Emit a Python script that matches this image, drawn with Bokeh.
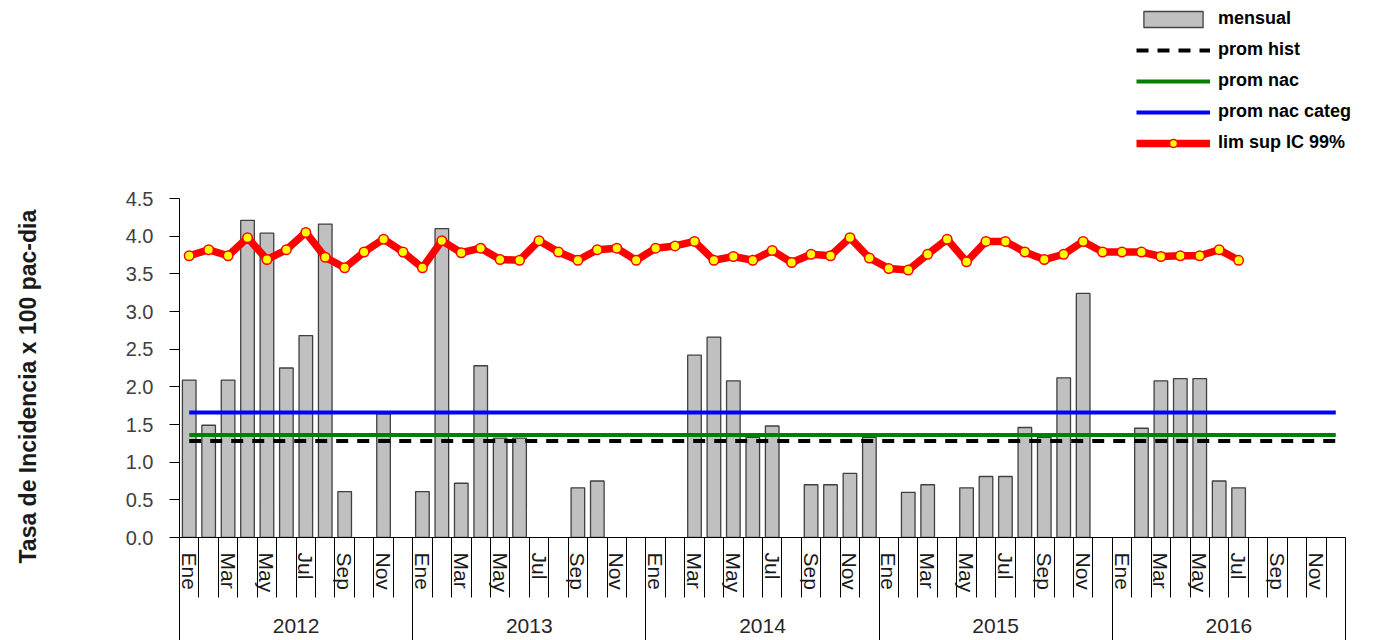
from bokeh.plotting import figure
from bokeh.models import (Range1d, LinearAxis, FixedTicker, NumeralTickFormatter,
                          Legend, LegendItem, Title)
from bokeh.embed import file_html
from bokeh.resources import INLINE

# ---------------- data ----------------
years = ["2012", "2013", "2014", "2015", "2016"]
months = ["Ene", "Feb", "Mar", "Abr", "May", "Jun", "Jul", "Ago", "Sep", "Oct", "Nov", "Dic"]
shown_months = ["Ene", "Mar", "May", "Jul", "Sep", "Nov"]

mensual = [
    2.09, 1.49, 2.09, 4.21, 4.04, 2.25, 2.68, 4.16, 0.61, None, 1.64, None,
    0.61, 4.10, 0.72, 2.28, 1.32, 1.32, None, None, 0.66, 0.75, None, None,
    None, None, 2.42, 2.66, 2.08, 1.33, 1.48, None, 0.70, 0.70, 0.85, 1.33,
    None, 0.60, 0.70, None, 0.66, 0.81, 0.81, 1.46, 1.33, 2.12, 3.24, None,
    None, 1.45, 2.08, 2.11, 2.11, 0.75, 0.66, None, None, None, None, None,
]
lim_sup = [
    3.74, 3.82, 3.74, 3.98, 3.69, 3.82, 4.05, 3.72, 3.58, 3.79, 3.96, 3.79,
    3.58, 3.94, 3.78, 3.84, 3.69, 3.68, 3.94, 3.79, 3.68, 3.82, 3.84, 3.68,
    3.84, 3.87, 3.93, 3.68, 3.73, 3.68, 3.81, 3.65, 3.76, 3.74, 3.98, 3.71,
    3.57, 3.55, 3.76, 3.96, 3.66, 3.93, 3.93, 3.79, 3.69, 3.76, 3.93, 3.79,
    3.79, 3.79, 3.73, 3.74, 3.74, 3.82, 3.68, None, None, None, None, None,
]
prom_hist = 1.28
prom_nac = 1.36
prom_nac_categ = 1.66
y_ticks = [0.0, 0.5, 1.0, 1.5, 2.0, 2.5, 3.0, 3.5, 4.0, 4.5]
y_title = "Tasa de Incidencia x 100 pac-dia"
legend_labels = ["mensual", "prom hist", "prom nac", "prom nac categ", "lim sup IC 99%"]

# ---------------- geometry ----------------
n = len(years) * len(months)
FONT = "Liberation Sans"
px_per_month = 1166.0 / n
frame_w = 1196
frame_h = 537
y_top = y_ticks[-1] * frame_h / 339.0

p = figure(frame_width=frame_w, frame_height=frame_h,
           min_border_left=179, min_border_right=2, min_border_top=0, min_border_bottom=103,
           x_range=Range1d(0, frame_w / px_per_month), y_range=Range1d(0, y_top),
           x_axis_type=None, y_axis_type=None,
           toolbar_location=None, output_backend="svg", outline_line_color=None)

# bars
bx = [i + 0.5 for i, v in enumerate(mensual) if v is not None]
bt = [v for v in mensual if v is not None]
bars = p.vbar(x=bx, top=bt, width=0.7, bottom=0, fill_color="#C0C0C0",
              line_color="#404040", line_width=1.3)

# horizontal reference lines from first to last month
hx = [0.5, n - 0.5]
r_hist = p.line(hx, [prom_hist] * 2, line_color="black", line_width=4, line_dash="12 9")
r_nac = p.line(hx, [prom_nac] * 2, line_color="#008000", line_width=4)
r_cat = p.line(hx, [prom_nac_categ] * 2, line_color="#0000FF", line_width=4)

# upper limit line
lx = [i + 0.5 for i, v in enumerate(lim_sup) if v is not None]
ly = [v for v in lim_sup if v is not None]
r_lim = p.line(lx, ly, line_color="#FF0000", line_width=7.5, line_join="round")
r_pts = p.scatter(lx, ly, size=9.5, marker="circle", fill_color="#FFFF00",
                  line_color="#FF0000", line_width=1.5)

# y axis (blank axis label only widens the panel so the title sits at the far left)
yaxis = LinearAxis(ticker=FixedTicker(ticks=y_ticks), formatter=NumeralTickFormatter(format="0.0"),
                   bounds=(y_ticks[0], y_ticks[-1]))
yaxis.major_tick_out = 10
yaxis.major_tick_in = 0
yaxis.minor_tick_line_color = None
yaxis.axis_line_color = "black"
yaxis.major_tick_line_color = "black"
yaxis.major_label_standoff = 16
yaxis.major_label_text_font = FONT
yaxis.major_label_text_font_size = "20px"
yaxis.major_label_text_color = "#404040"
yaxis.axis_label = " "
yaxis.axis_label_text_font_size = "2px"
yaxis.axis_label_standoff = 76
p.add_layout(yaxis, "left")

p.add_layout(Title(text=y_title, align="left", offset=-26, vertical_align="middle",
                   standoff=0, text_font=FONT, text_font_style="bold",
                   text_font_size="23px", text_color="#1a1a1a"), "left")

# month axis: boundary lines as minor ticks, odd-month names as labels
month_centers = [i + 0.5 for i in range(n) if months[i % 12] in shown_months]
xm = LinearAxis(ticker=FixedTicker(ticks=month_centers, minor_ticks=list(range(n + 1))),
                bounds=(0, n))
xm.major_label_overrides = {c: months[int(c) % 12] for c in month_centers}
xm.major_label_orientation = "vertical"
xm.major_tick_out = 0
xm.major_tick_in = 0
xm.major_tick_line_color = None
xm.minor_tick_out = 60
xm.minor_tick_in = 0
xm.minor_tick_line_color = "black"
xm.axis_line_color = "black"
xm.major_label_standoff = -45
xm.major_label_text_font = FONT
xm.major_label_text_font_size = "21px"
xm.major_label_text_color = "#1a1a1a"
p.add_layout(xm, "below")

# year axis: year separators as minor ticks, year names as labels
year_centers = [12 * k + 6 for k in range(len(years))]
xy = LinearAxis(ticker=FixedTicker(ticks=year_centers,
                                   minor_ticks=[12 * k for k in range(len(years) + 1)]),
                bounds=(0, n))
xy.major_label_overrides = {c: years[k] for k, c in enumerate(year_centers)}
xy.axis_line_color = None
xy.major_tick_line_color = None
xy.major_tick_out = 0
xy.major_tick_in = 0
xy.minor_tick_in = 52
xy.minor_tick_out = 48
xy.minor_tick_line_color = "black"
xy.major_label_standoff = -25
xy.major_label_text_font = FONT
xy.major_label_text_font_size = "21px"
xy.major_label_text_color = "#262626"
p.add_layout(xy, "below")

# legend
items = [
    LegendItem(label=legend_labels[0], renderers=[bars]),
    LegendItem(label=legend_labels[1], renderers=[r_hist]),
    LegendItem(label=legend_labels[2], renderers=[r_nac]),
    LegendItem(label=legend_labels[3], renderers=[r_cat]),
    LegendItem(label=legend_labels[4], renderers=[r_lim, r_pts]),
]
legend = Legend(items=items, location=(957, 384), border_line_color=None,
                background_fill_alpha=0, padding=0, margin=0, spacing=10,
                glyph_width=74, glyph_height=20, label_height=21, label_standoff=8,
                label_text_font=FONT, label_text_font_style="bold",
                label_text_font_size="18px", label_text_color="black")
p.add_layout(legend)

open("out.html", "w").write(file_html(p, INLINE))
